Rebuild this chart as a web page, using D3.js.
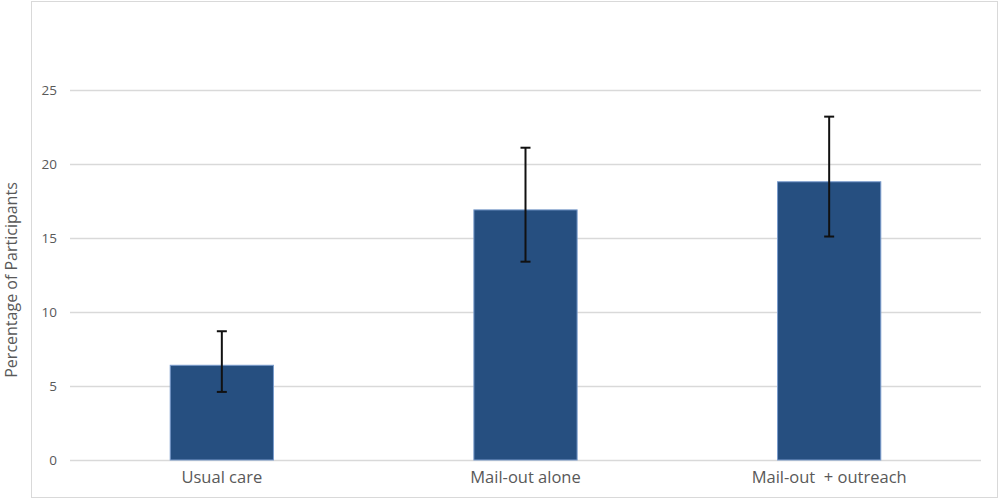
<!DOCTYPE html>
<html>
<head>
<meta charset="utf-8">
<script src="https://cdn.jsdelivr.net/npm/d3@7"></script>
<style>
  body { margin: 0; background: #fff; }
  svg text { font-family: "Open Sans", "Liberation Sans", sans-serif; fill: #595959; white-space: pre; }
</style>
</head>
<body>
<svg id="chart" width="1000" height="499"></svg>
<script>
const categories = ['Usual care', 'Mail-out alone', 'Mail-out  + outreach'];
const values = [6.4, 16.9, 18.8];
const errLow = [4.6, 13.4, 15.1];
const errHigh = [8.7, 21.1, 23.2];
const yTicks = [0, 5, 10, 15, 20, 25];

const svg = d3.select('#chart');
const plot = { left: 70, right: 981, top: 90, bottom: 460 };

// outer frame
svg.append('rect')
  .attr('x', 31.5).attr('y', 1.5)
  .attr('width', 966).attr('height', 496)
  .attr('fill', 'none').attr('stroke', '#d9d9d9').attr('stroke-width', 1);

const x = d3.scaleBand()
  .domain(categories)
  .range([plot.left, plot.right])
  .paddingInner(0.66)
  .paddingOuter(0.33);

const y = d3.scaleLinear()
  .domain([0, 25])
  .range([plot.bottom, plot.top]);

// gridlines + tick labels
const yAxis = d3.axisLeft(y)
  .tickValues(yTicks)
  .tickSize(-(plot.right - plot.left))
  .tickPadding(13)
  .tickFormat(d3.format('d'));

const gy = svg.append('g')
  .attr('transform', `translate(${plot.left},0)`)
  .call(yAxis);
gy.select('.domain').remove();
gy.selectAll('.tick line').attr('stroke', '#d9d9d9').attr('stroke-width', 1.3);
gy.selectAll('.tick text').attr('font-size', 13.5).style('fill', '#595959');

// category labels
const xAxis = d3.axisBottom(x).tickSize(0).tickPadding(11);
const gx = svg.append('g')
  .attr('transform', `translate(0,${plot.bottom})`)
  .call(xAxis);
gx.select('.domain').remove();
gx.selectAll('.tick text').attr('font-size', 16.5).style('fill', '#595959');

// bars
svg.append('g').selectAll('rect')
  .data(categories)
  .join('rect')
    .attr('x', d => x(d))
    .attr('y', (d, i) => y(values[i]))
    .attr('width', x.bandwidth())
    .attr('height', (d, i) => y(0) - y(values[i]))
    .attr('fill', '#264f80')
    .attr('stroke', '#7a9ccc')
    .attr('stroke-width', 1);

// error bars
const eb = svg.append('g').attr('stroke', '#111').attr('stroke-width', 2);
categories.forEach((c, i) => {
  const cx = x(c) + x.bandwidth() / 2;
  eb.append('line').attr('x1', cx).attr('x2', cx).attr('y1', y(errLow[i])).attr('y2', y(errHigh[i]));
  eb.append('line').attr('x1', cx - 5).attr('x2', cx + 5).attr('y1', y(errLow[i])).attr('y2', y(errLow[i]));
  eb.append('line').attr('x1', cx - 5).attr('x2', cx + 5).attr('y1', y(errHigh[i])).attr('y2', y(errHigh[i]));
});

// y axis title
svg.append('text')
  .attr('transform', `translate(17,${(plot.top + plot.bottom) / 2 + 5}) rotate(-90)`)
  .attr('text-anchor', 'middle')
  .attr('font-size', 16)
  .text('Percentage of Participants');
</script>
</body>
</html>
